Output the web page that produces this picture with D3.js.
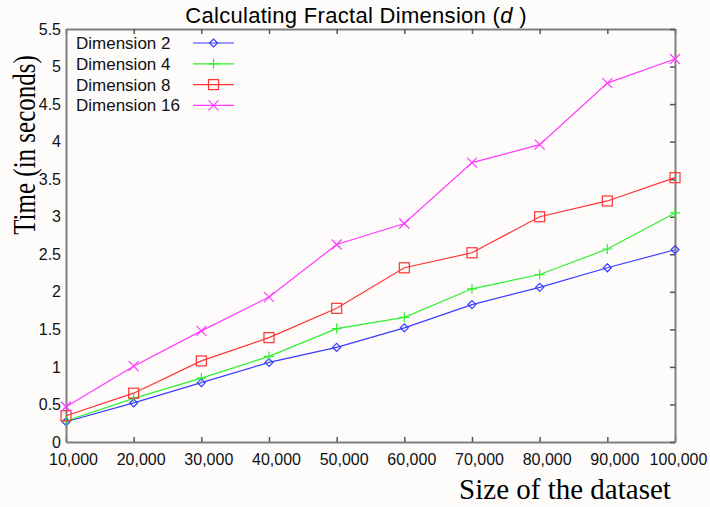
<!DOCTYPE html>
<html>
<head>
<meta charset="utf-8">
<script src="https://cdn.jsdelivr.net/npm/d3@7"></script>
<style>
  body { margin: 0; background: #fdfcfb; }
  svg { display: block; }
</style>
</head>
<body>
<svg id="chart" width="710" height="507"></svg>
<script>
// data
const sizes = [10000, 20000, 30000, 40000, 50000, 60000, 70000, 80000, 90000, 100000];
const dim2  = [0.27, 0.52, 0.79, 1.06, 1.26, 1.52, 1.83, 2.06, 2.32, 2.56];
const dim4  = [0.28, 0.58, 0.85, 1.14, 1.51, 1.66, 2.04, 2.23, 2.57, 3.05];
const dim8  = [0.35, 0.65, 1.08, 1.39, 1.78, 2.32, 2.52, 3.00, 3.21, 3.52];
const dim16 = [0.47, 1.01, 1.48, 1.93, 2.63, 2.91, 3.72, 3.96, 4.78, 5.10];
const yTicks = [0, 0.5, 1, 1.5, 2, 2.5, 3, 3.5, 4, 4.5, 5, 5.5];

const series = [
  { name: "Dimension 2",  values: dim2,  color: "#3b3bff", marker: "diamond" },
  { name: "Dimension 4",  values: dim4,  color: "#2ef02e", marker: "plus" },
  { name: "Dimension 8",  values: dim8,  color: "#ff3333", marker: "square" },
  { name: "Dimension 16", values: dim16, color: "#ff38ff", marker: "cross" }
];

const margin = { top: 29, right: 35, bottom: 65, left: 66 };
const width = 710, height = 507;
const svg = d3.select("#chart");

const x = d3.scaleLinear().domain([10000, 100000]).range([margin.left, width - margin.right]);
const y = d3.scaleLinear().domain([0, 5.5]).range([height - margin.bottom, margin.top]);

const axisColor = "#7f7f7f";
const tickFont = "Arial, 'Liberation Sans', sans-serif";
const serif = "'Liberation Serif', 'Times New Roman', serif";

// box with inward ticks (MATLAB style)
svg.append("g")
  .attr("transform", `translate(0,${y(0)})`)
  .call(d3.axisBottom(x).tickValues(sizes).tickSizeInner(-5).tickSizeOuter(0)
    .tickFormat(d3.format(",")).tickPadding(12))
  .call(g => g.selectAll("text")
    .attr("dx", (d, i) => i === sizes.length - 1 ? 3 : 7)
    .attr("font-size", 16).attr("font-family", tickFont).attr("fill", "#111"));

svg.append("g")
  .attr("transform", `translate(0,${y(5.5)})`)
  .call(d3.axisTop(x).tickValues(sizes).tickSizeInner(-5).tickSizeOuter(0).tickFormat(""));

svg.append("g")
  .attr("transform", `translate(${x(10000)},0)`)
  .call(d3.axisLeft(y).tickValues(yTicks).tickSizeInner(0).tickSizeOuter(0)
    .tickFormat(d => d).tickPadding(5))
  .call(g => g.selectAll("text").attr("font-size", 16).attr("font-family", tickFont).attr("fill", "#111"));

svg.append("g")
  .attr("transform", `translate(${x(100000)},0)`)
  .call(d3.axisRight(y).tickValues(yTicks).tickSizeInner(-5).tickSizeOuter(0).tickFormat(""));

svg.selectAll(".domain").attr("stroke", axisColor).attr("stroke-width", 2);
svg.selectAll(".tick line").attr("stroke", "#555").attr("stroke-width", 1.5);

// series lines
const line = d3.line().x((d, i) => x(sizes[i])).y(d => y(d));

function drawMarker(g, type, color) {
  if (type === "diamond") {
    g.append("path").attr("d", "M0,-4L4,0L0,4L-4,0Z");
  } else if (type === "plus") {
    g.append("path").attr("d", "M-5,0H5M0,-5V5");
  } else if (type === "square") {
    g.append("rect").attr("x", -5).attr("y", -5).attr("width", 10).attr("height", 10);
  } else {
    g.append("path").attr("d", "M-5,-5L5,5M-5,5L5,-5");
  }
  g.selectAll("*").attr("fill", "none").attr("stroke", color).attr("stroke-width", 1.2);
}

series.forEach(s => {
  svg.append("path")
    .datum(s.values)
    .attr("fill", "none")
    .attr("stroke", s.color)
    .attr("stroke-width", 1.2)
    .attr("d", line);

  svg.append("g").selectAll("g")
    .data(s.values)
    .join("g")
    .attr("transform", (d, i) => `translate(${x(sizes[i])},${y(d)})`)
    .each(function() { drawMarker(d3.select(this), s.marker, s.color); });
});

// legend
const legend = svg.append("g").attr("transform", "translate(76,43)");
series.forEach((s, i) => {
  const row = legend.append("g").attr("transform", `translate(0,${i * 20.8})`);
  row.append("text")
    .attr("x", 0).attr("y", 6)
    .attr("font-size", 17).attr("font-family", tickFont).attr("fill", "#111")
    .text(s.name);
  row.append("line")
    .attr("x1", 117).attr("x2", 158)
    .attr("stroke", s.color).attr("stroke-width", 1.2);
  drawMarker(row.append("g").attr("transform", "translate(137.5,0)"), s.marker, s.color);
});

// title
const title = svg.append("text")
  .attr("x", 356).attr("y", 22.5)
  .attr("text-anchor", "middle")
  .attr("font-size", 22).attr("letter-spacing", 0.3)
  .attr("font-family", tickFont).attr("fill", "#000");
title.append("tspan").text("Calculating Fractal Dimension (");
title.append("tspan").attr("font-style", "italic").text("d");
title.append("tspan").text(" )");

// axis labels
svg.append("text")
  .attr("transform", "translate(35,145) scale(1.3,1) rotate(-90)")
  .attr("text-anchor", "middle")
  .attr("font-size", 25).attr("font-family", serif)
  .attr("fill", "#000")
  .text("Time (in seconds)");

svg.append("text")
  .attr("x", 565).attr("y", 499)
  .attr("text-anchor", "middle")
  .attr("font-size", 29).attr("font-family", serif)
  .attr("fill", "#000")
  .text("Size of the dataset");
</script>
</body>
</html>
